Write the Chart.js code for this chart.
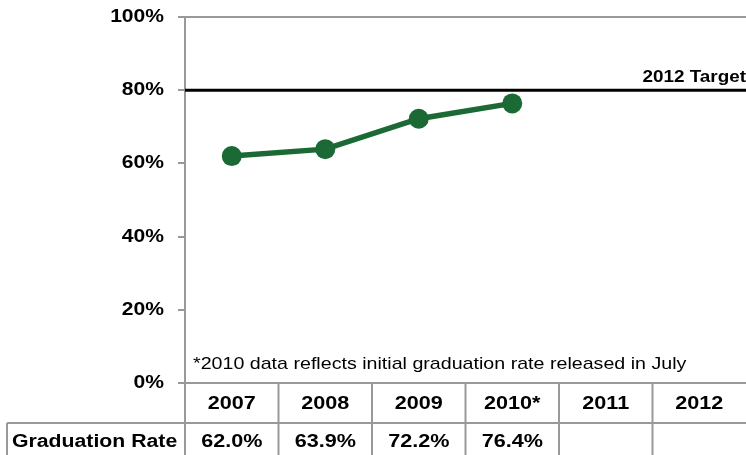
<!DOCTYPE html>
<html>
<head>
<meta charset="utf-8">
<script src="https://cdn.jsdelivr.net/npm/chart.js@4.4.1/dist/chart.umd.min.js"></script>
<style>
  html, body { margin: 0; padding: 0; background: #fff; }
  #wrap { width: 746px; height: 455px; }
</style>
</head>
<body>
<div id="wrap"><canvas id="gradChart" width="746" height="455"></canvas></div>
<script>
// chart data
const years = ['2007', '2008', '2009', '2010*', '2011', '2012'];
const gradRates = [62.0, 63.9, 72.2, 76.4, null, null];
const gradLabels = ['62.0%', '63.9%', '72.2%', '76.4%', '', ''];
const targetValue = [80];
const targetLabel = '2012 Target';
const rowLabel = 'Graduation Rate';
const footnote = '*2010 data reflects initial graduation rate released in July';

const GREEN = '#1b6934';
const GRAY = '#999999';
const FONT = '"Liberation Sans", Arial, Helvetica, sans-serif';

// the original text is drawn a bit wider than normal, so stretch it
function wideText(ctx, str, x, y, align, sx, font) {
    ctx.save();
    ctx.translate(x, y);
    ctx.scale(sx, 1);
    ctx.font = font;
    ctx.fillStyle = '#000';
    ctx.textAlign = align;
    ctx.textBaseline = 'middle';
    ctx.fillText(str, 0, 0);
    ctx.restore();
}

const tablePlugin = {
    id: 'tablePlugin',
    beforeDatasetsDraw(chart) {
        const ctx = chart.ctx;
        const area = chart.chartArea;
        const yPix = chart.scales.y.getPixelForValue(targetValue[0]);
        ctx.save();
        ctx.strokeStyle = '#000';
        ctx.lineWidth = 3;
        ctx.beginPath();
        ctx.moveTo(area.left, yPix);
        ctx.lineTo(area.right, yPix);
        ctx.stroke();
        ctx.restore();
        wideText(ctx, targetLabel, area.right, yPix - 13, 'right', 1.11, 'bold 17px ' + FONT);
    },
    afterDraw(chart) {
        const ctx = chart.ctx;
        const area = chart.chartArea;
        const xs = chart.scales.x;
        const ys = chart.scales.y;

        // y tick labels
        ys.ticks.forEach(t => {
            wideText(ctx, t.value + '%', 164, ys.getPixelForValue(t.value), 'right', 1.17, 'bold 18px ' + FONT);
        });

        // footnote
        wideText(ctx, footnote, area.left + 8, area.bottom - 19, 'left', 1.155, '17px ' + FONT);

        // data table
        const rowTop = area.bottom;
        const rowMid = rowTop + 40;
        const rowEnd = chart.height;
        const half = (xs.getPixelForValue(1) - xs.getPixelForValue(0)) / 2;

        ctx.save();
        ctx.strokeStyle = GRAY;
        ctx.lineWidth = 2;
        ctx.beginPath();
        ctx.moveTo(7, rowMid);
        ctx.lineTo(area.right, rowMid);
        ctx.moveTo(7, rowMid);
        ctx.lineTo(7, rowEnd);
        ctx.moveTo(area.left, rowTop);
        ctx.lineTo(area.left, rowEnd);
        years.forEach((y, i) => {
            const bx = xs.getPixelForValue(i) + half;
            if (bx < area.right - 2) {
                ctx.moveTo(bx, rowTop);
                ctx.lineTo(bx, rowEnd);
            }
        });
        ctx.stroke();
        ctx.restore();

        years.forEach((y, i) => {
            const cx = xs.getPixelForValue(i);
            wideText(ctx, y, cx, rowTop + 21, 'center', 1.2, 'bold 18px ' + FONT);
            if (gradLabels[i]) {
                wideText(ctx, gradLabels[i], cx, rowMid + 19, 'center', 1.2, 'bold 18px ' + FONT);
            }
        });
        wideText(ctx, rowLabel, 12, rowMid + 19, 'left', 1.18, 'bold 18px ' + FONT);
    }
};

const ctx = document.getElementById('gradChart').getContext('2d');
new Chart(ctx, {
    type: 'line',
    data: {
        labels: years,
        datasets: [{
            label: rowLabel,
            data: gradRates,
            borderColor: GREEN,
            backgroundColor: GREEN,
            borderWidth: 5.5,
            pointRadius: 10,
            pointHoverRadius: 10,
            pointBackgroundColor: GREEN,
            pointBorderWidth: 0,
            tension: 0,
            spanGaps: false
        }]
    },
    options: {
        responsive: false,
        animation: false,
        layout: { autoPadding: false, padding: { top: 17, left: 0, right: 0, bottom: 0 } },
        plugins: { legend: { display: false }, tooltip: { enabled: false } },
        scales: {
            x: {
                offset: true,
                ticks: { display: false },
                grid: { display: false },
                border: { display: false },
                afterFit: s => { s.height = 72; }
            },
            y: {
                min: 0,
                max: 100,
                ticks: { stepSize: 20, color: 'rgba(0,0,0,0)', font: { size: 18 } },
                grid: {
                    color: c => (c.tick && (c.tick.value === 0 || c.tick.value === 100)) ? GRAY : 'rgba(0,0,0,0)',
                    tickColor: GRAY,
                    tickLength: 7,
                    lineWidth: 2
                },
                border: { display: true, color: GRAY, width: 2 },
                afterFit: s => { s.width = 185; }
            }
        }
    },
    plugins: [tablePlugin]
});
</script>
</body>
</html>
